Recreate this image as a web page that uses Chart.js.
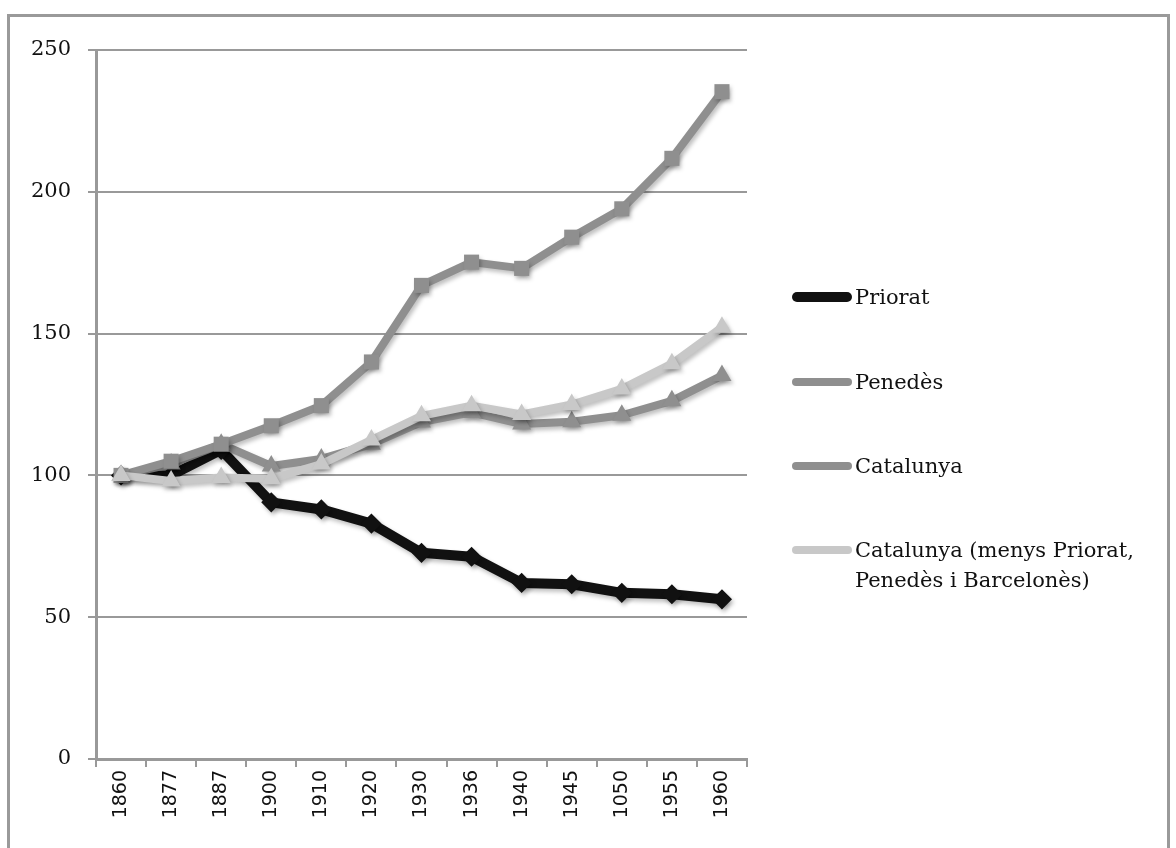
<!DOCTYPE html>
<html>
<head>
<meta charset="utf-8">
<script src="https://cdn.jsdelivr.net/npm/chart.js@4/dist/chart.umd.min.js"></script>
<style>
  html, body { margin: 0; padding: 0; background: #fff; }
  #wrap { position: relative; width: 1176px; height: 848px; overflow: hidden; }
  #frame { position: absolute; left: 7px; top: 14px; width: 1163px; height: 850px; border: 3px solid #9a9a9a; box-sizing: border-box; }
  canvas { position: absolute; left: 0; top: 0; }
  .leg { position: absolute; left: 792px; font-family: "DejaVu Serif", serif; font-size: 21px; color: #111; line-height: 30px; }
  .leg .sw { position: absolute; left: 0; width: 60px; border-radius: 5px; }
  .leg .tx { position: absolute; left: 63px; white-space: nowrap; }
</style>
</head>
<body>
<div id="wrap">
  <div id="frame"></div>
  <canvas id="c" width="1176" height="848"></canvas>
  <div id="legend"></div>
</div>
<script>
const categories = ["1860","1877","1887","1900","1910","1920","1930","1936","1940","1945","1050","1955","1960"];
const priorat   = [100, 100, 109, 90.5, 88, 83, 72.7, 71.3, 62.1, 61.6, 58.6, 58.1, 56.3];
const penedes   = [100, 104, 111, 103.3, 105.8, 111, 118.8, 122.2, 118.1, 118.9, 121.2, 126.3, 135.2];
const catalunya = [100, 105, 111, 117.5, 124.6, 140, 167, 175.2, 173, 184, 194, 211.8, 235.3];
const catMenys  = [100, 98, 99.3, 98.8, 104, 112.5, 121, 124.6, 121.5, 125, 130.5, 139.4, 152.2];
const yTicks = [0, 50, 100, 150, 200, 250];

const seriesNames = ["Priorat", "Penedès", "Catalunya", "Catalunya (menys Priorat,\nPenedès i Barcelonès)"];
const seriesColors = ["#111111", "#8f8f8f", "#8f8f8f", "#c8c8c8"];

const shadowPlugin = {
  id: 'shadow',
  beforeDatasetsDraw(chart) {
    const ctx = chart.ctx;
    ctx.save();
    ctx.shadowColor = 'rgba(0,0,0,0.25)';
    ctx.shadowBlur = 4;
    ctx.shadowOffsetX = 2;
    ctx.shadowOffsetY = 3;
  },
  afterDatasetsDraw(chart) { chart.ctx.restore(); }
};

const chart = new Chart(document.getElementById('c'), {
  type: 'line',
  data: {
    labels: categories,
    datasets: [
      { label: seriesNames[0], data: priorat, borderColor: seriesColors[0], backgroundColor: seriesColors[0], borderWidth: 10, pointStyle: 'rectRot', pointRadius: 3, order: 3 },
      { label: seriesNames[1], data: penedes, borderColor: seriesColors[1], backgroundColor: seriesColors[1], borderWidth: 8, pointStyle: 'triangle', pointRadius: 3, order: 2 },
      { label: seriesNames[2], data: catalunya, borderColor: seriesColors[2], backgroundColor: seriesColors[2], borderWidth: 8, pointStyle: 'rect', pointRadius: 5, order: 1 },
      { label: seriesNames[3], data: catMenys, borderColor: seriesColors[3], backgroundColor: seriesColors[3], borderWidth: 8, pointStyle: 'triangle', pointRadius: 3, order: 0 }
    ]
  },
  options: {
    responsive: false,
    animation: false,
    devicePixelRatio: 1,
    layout: { padding: { left: 0, right: 429, top: 50, bottom: 0 } },
    elements: { line: { tension: 0, borderCapStyle: 'round', borderJoinStyle: 'round' }, point: { borderWidth: 0 } },
    plugins: { legend: { display: false }, tooltip: { enabled: false } },
    scales: {
      x: {
        type: 'category',
        offset: true,
        afterFit(s) { s.height = 89; },
        grid: { offset: true, drawOnChartArea: false, drawTicks: true, tickLength: 8, color: '#999', lineWidth: 2 },
        border: { display: true, color: '#999', width: 3 },
        ticks: { minRotation: 90, maxRotation: 90, padding: 3, color: '#111', font: { family: 'DejaVu Sans', size: 19 } }
      },
      y: {
        min: 0, max: 250,
        afterFit(s) { s.width = 96; },
        afterBuildTicks(s) { s.ticks = yTicks.map(v => ({ value: v })); },
        grid: { color: '#999', lineWidth: 2, tickLength: 8, drawTicks: true },
        border: { display: true, color: '#999', width: 3 },
        ticks: { padding: 17, color: '#111', font: { family: 'DejaVu Serif', size: 21 } }
      }
    }
  },
  plugins: [shadowPlugin]
});

// Legend
const legendY = [297, 382, 466, 550];
const legend = document.getElementById('legend');
seriesNames.forEach((name, i) => {
  const d = document.createElement('div');
  d.className = 'leg';
  d.style.top = (legendY[i] - 15) + 'px';
  const sw = document.createElement('div');
  sw.className = 'sw';
  const h = i === 0 ? 10 : 8;
  sw.style.height = h + 'px';
  sw.style.top = (15 - h / 2) + 'px';
  sw.style.background = seriesColors[i];
  const tx = document.createElement('div');
  tx.className = 'tx';
  tx.innerHTML = name.split('\n').join('<br>');
  d.appendChild(sw); d.appendChild(tx);
  legend.appendChild(d);
});
</script>
</body>
</html>
